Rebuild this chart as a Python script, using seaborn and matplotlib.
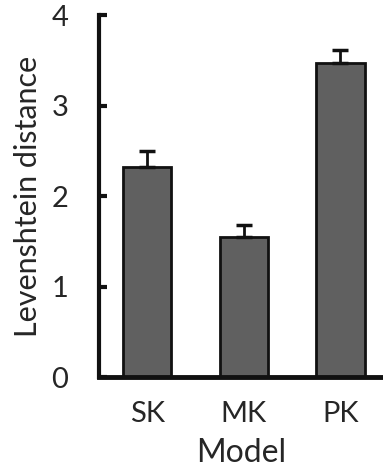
import pandas as pd
import numpy as np
import matplotlib
matplotlib.use('Agg')
import matplotlib.pyplot as plt
import seaborn as sns

models = ['SK', 'MK', 'PK']
distance = [2.32, 1.55, 3.47]
err_up = [0.18, 0.13, 0.14]

df = pd.DataFrame({'Model': models, 'Levenshtein distance': distance})

sns.set_style('white')
plt.rcParams['font.family'] = ['Lato', 'DejaVu Sans']

fig = plt.figure(figsize=(3.83, 4.68), dpi=100)
ax = fig.add_axes([0.2585, 0.1944, 0.7415, 0.7735])

sns.barplot(data=df, x='Model', y='Levenshtein distance', color='#606060',
            width=0.5, edgecolor='#111111', linewidth=2, errorbar=None,
            saturation=1, ax=ax)
ax.errorbar(range(len(models)), distance, yerr=[[0] * 3, err_up], fmt='none',
            ecolor='#111111', elinewidth=2, capsize=6, capthick=2.5)

ax.set_xlim(-0.5, 2.44)
ax.set_ylim(0, 4)
ax.set_yticks([0, 1, 2, 3, 4])
sns.despine(ax=ax)
ax.spines['left'].set_linewidth(3)
ax.spines['bottom'].set_linewidth(3.5)
ax.spines['left'].set_color('#111111')
ax.spines['bottom'].set_color('#111111')
ax.tick_params(axis='y', direction='in', length=6, width=3, color='#111111',
               pad=22, labelsize=21, left=True)
ax.tick_params(axis='x', length=0, pad=17, labelsize=21)
ax.set_xlabel('Model', fontsize=23, labelpad=8)
ax.set_ylabel('Levenshtein distance', fontsize=22, labelpad=7)

fig.savefig('out.png', dpi=100)
